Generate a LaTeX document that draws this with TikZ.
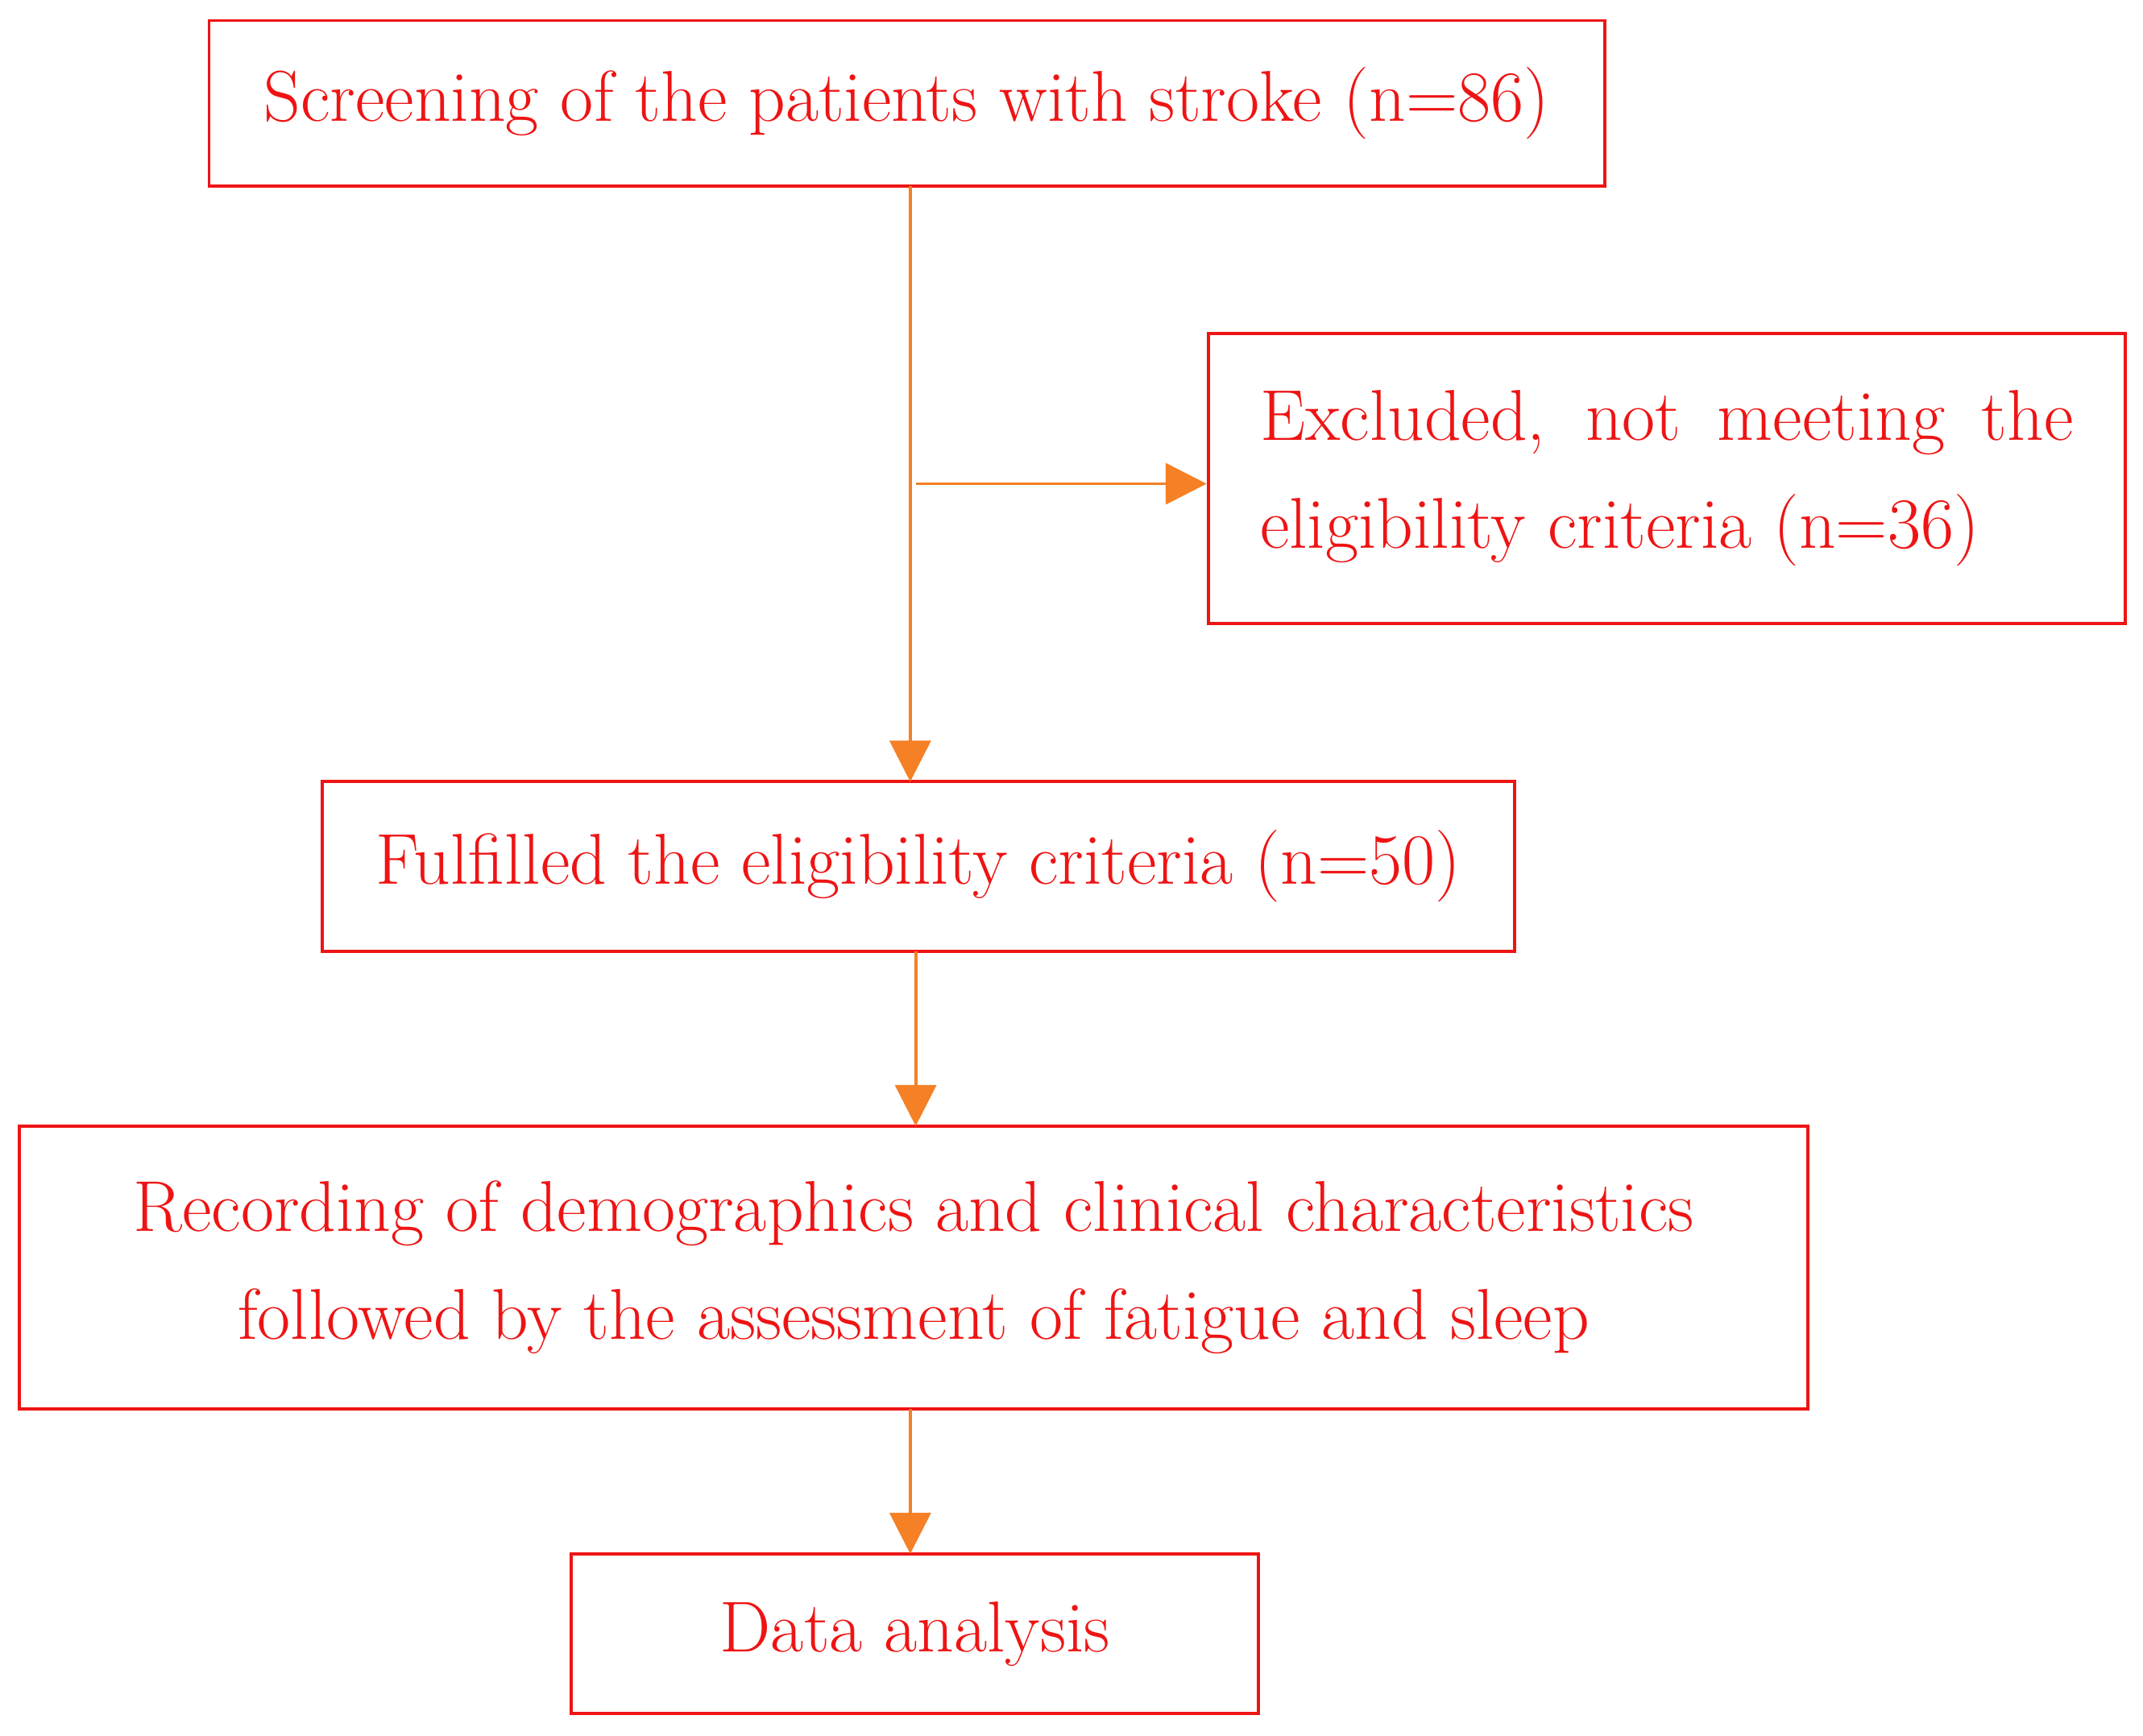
\documentclass[tikz,border=0pt]{standalone}
\usepackage{tikz}
\usetikzlibrary{arrows.meta}
\definecolor{boxred}{RGB}{238,20,20}
\definecolor{arrorange}{RGB}{245,128,37}
\tikzset{
  box/.style={draw=boxred, line width=1.3pt, text=boxred, inner sep=0pt,
    font=\fontsize{30}{45}\selectfont, align=center},
  flow/.style={draw=arrorange, line width=1.3pt,
    -{Triangle[length=0.6cm,width=0.6cm]}},
}
\begin{document}
\begin{tikzpicture}[x=0.02cm,y=-0.02cm]
  \useasboundingbox (0,0) rectangle (1568,1270);

  \node[box, minimum width=1021*0.02cm, minimum height=121*0.02cm] (screen) at (663.5,75.5)
    {Screening of the patients with stroke (n=86)};
  \node[box, minimum width=671*0.02cm, minimum height=212*0.02cm] (excl) at (1219.5,350)
    {\makebox[11.9cm][s]{Excluded, not meeting the}\\
     \makebox[11.9cm][l]{eligibility criteria (n=36)}};
  \node[box, minimum width=872*0.02cm, minimum height=124*0.02cm] (elig) at (672,634)
    {Fulfilled the eligibility criteria (n=50)};
  \node[box, minimum width=1309*0.02cm, minimum height=207*0.02cm] (record) at (668.5,927.5)
    {Recording of demographics and clinical characteristics\\
     followed by the assessment of fatigue and sleep};
  \node[box, minimum width=503*0.02cm, minimum height=117*0.02cm] (data) at (669.5,1195.5)
    {Data analysis};

  % connectors
  \coordinate (top) at (666,136);
  \coordinate (mid) at (666,572);
  \coordinate (split) at (670,354);
  \coordinate (low) at (670,696);
  \coordinate (rec) at (670,824);
  \coordinate (bot) at (666,1031);
  \coordinate (dat) at (666,1137);
  \draw[flow] (top) -- (mid);
  \draw[flow] (split) -- (split -| excl.west);
  \draw[flow] (low) -- (rec);
  \draw[flow] (bot) -- (dat);
\end{tikzpicture}
\end{document}
